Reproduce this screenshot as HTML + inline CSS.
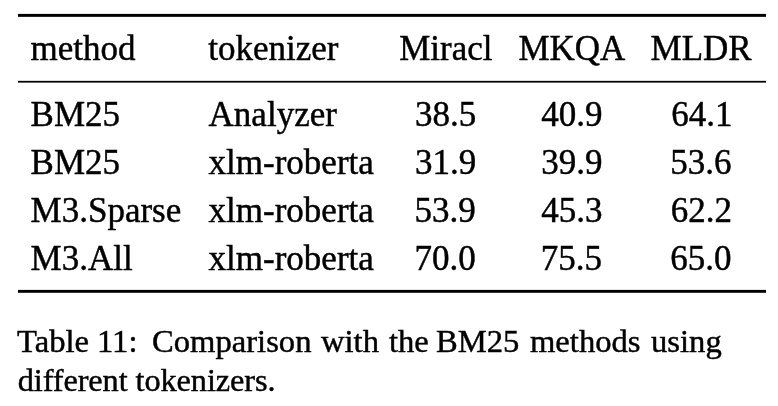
<!DOCTYPE html>
<html><head><meta charset="utf-8"><style>
html,body{margin:0;padding:0;background:#fff;}
body{width:778px;height:406px;position:relative;overflow:hidden;font-family:"Liberation Serif",serif;color:#000;}
.r{position:absolute;left:18px;width:748px;background:#000;}
.t,.c{position:absolute;white-space:nowrap;-webkit-text-stroke:0.45px #000;}
.t{font-size:35px;line-height:35px;}
.c{font-size:32.3px;line-height:32.3px;}
</style></head><body>
<div id="w" style="position:absolute;left:0;top:0;width:778px;height:406px;will-change:transform;">
<svg width="778" height="406" style="position:absolute;left:0;top:0">
<rect x="18" y="13.9" width="748" height="2.95" fill="#000"/>
<rect x="18" y="80.85" width="748" height="1.75" fill="#000"/>
<rect x="18" y="289.9" width="748" height="2.9" fill="#000"/>
</svg>
<div class="t" style="top:31.49px;left:30.60px;">method</div>
<div class="t" style="top:31.49px;left:208.20px;">tokenizer</div>
<div class="t" style="top:31.49px;left:345.80px;width:200px;text-align:center;">Miracl</div>
<div class="t" style="top:31.49px;left:471.90px;width:200px;text-align:center;">MKQA</div>
<div class="t" style="top:31.49px;left:601.10px;width:200px;text-align:center;">MLDR</div>
<div class="t" style="top:97.49px;left:30.60px;">BM25</div>
<div class="t" style="top:97.49px;left:208.60px;">Analyzer</div>
<div class="t" style="top:97.49px;left:345.50px;width:200px;text-align:center;">38.5</div>
<div class="t" style="top:97.49px;left:471.90px;width:200px;text-align:center;">40.9</div>
<div class="t" style="top:97.49px;left:601.90px;width:200px;text-align:center;">64.1</div>
<div class="t" style="top:145.49px;left:30.60px;">BM25</div>
<div class="t" style="top:145.49px;left:208.60px;">xlm-roberta</div>
<div class="t" style="top:145.49px;left:345.50px;width:200px;text-align:center;">31.9</div>
<div class="t" style="top:145.49px;left:471.90px;width:200px;text-align:center;">39.9</div>
<div class="t" style="top:145.49px;left:600.90px;width:200px;text-align:center;">53.6</div>
<div class="t" style="top:193.49px;left:30.60px;">M3.Sparse</div>
<div class="t" style="top:193.49px;left:208.60px;">xlm-roberta</div>
<div class="t" style="top:193.49px;left:345.00px;width:200px;text-align:center;">53.9</div>
<div class="t" style="top:193.49px;left:471.90px;width:200px;text-align:center;">45.3</div>
<div class="t" style="top:193.49px;left:601.40px;width:200px;text-align:center;">62.2</div>
<div class="t" style="top:241.49px;left:30.60px;">M3.All</div>
<div class="t" style="top:241.49px;left:208.60px;">xlm-roberta</div>
<div class="t" style="top:241.49px;left:345.00px;width:200px;text-align:center;">70.0</div>
<div class="t" style="top:241.49px;left:471.40px;width:200px;text-align:center;">75.5</div>
<div class="t" style="top:241.49px;left:600.90px;width:200px;text-align:center;">65.0</div>
<div class="c" style="top:324.75px;left:17.35px;transform:scaleX(1.01);transform-origin:0 0;">Table</div>
<div class="c" style="top:324.75px;left:97.40px;transform:scaleX(1.01);transform-origin:0 0;">11:</div>
<div class="c" style="top:324.75px;left:151.80px;transform:scaleX(1.01);transform-origin:0 0;">Comparison</div>
<div class="c" style="top:324.75px;left:321.20px;transform:scaleX(1.01);transform-origin:0 0;">with</div>
<div class="c" style="top:324.75px;left:388.50px;transform:scaleX(1.01);transform-origin:0 0;">the</div>
<div class="c" style="top:324.75px;left:436.20px;transform:scaleX(1.01);transform-origin:0 0;">BM25</div>
<div class="c" style="top:324.75px;left:530.00px;transform:scaleX(1.01);transform-origin:0 0;">methods</div>
<div class="c" style="top:324.75px;left:650.60px;transform:scaleX(1.01);transform-origin:0 0;">using</div>
<div class="c" style="top:363.75px;left:17.70px;letter-spacing:-0.08px;">different tokenizers.</div>
</div>
</body></html>
